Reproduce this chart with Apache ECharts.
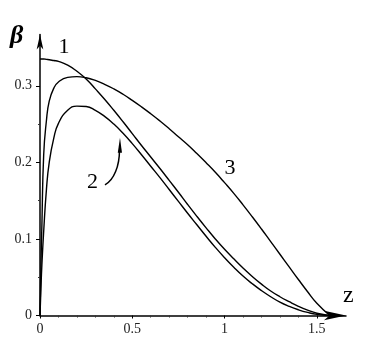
<!DOCTYPE html>
<html><head><meta charset="utf-8">
<script src="https://cdn.jsdelivr.net/npm/echarts@6/dist/echarts.min.js"></script>
<style>html,body{margin:0;padding:0;background:#fff}#c{width:374px;height:356px}</style>
</head><body><div id="c"></div>
<script>
// ---- data ----
const zGrid = [0, 0.005, 0.01, 0.02, 0.035, 0.05, 0.075, 0.1, 0.15, 0.2, 0.25, 0.3, 0.35, 0.4, 0.45, 0.5, 0.55, 0.6, 0.65, 0.7, 0.75, 0.8, 0.85, 0.9, 0.95, 1.0, 1.05, 1.1, 1.15, 1.2, 1.25, 1.3, 1.35, 1.4, 1.45, 1.5, 1.57];
const beta1 = [0.335, 0.335, 0.335, 0.335, 0.3345, 0.334, 0.333, 0.332, 0.327, 0.319, 0.309, 0.296, 0.2825, 0.268, 0.253, 0.2375, 0.222, 0.207, 0.192, 0.1765, 0.161, 0.145, 0.1295, 0.1145, 0.1, 0.0865, 0.074, 0.062, 0.051, 0.041, 0.032, 0.0245, 0.018, 0.012, 0.007, 0.003, 0];
const beta2 = [0, 0.035, 0.065, 0.11, 0.165, 0.2, 0.232, 0.251, 0.268, 0.2735, 0.273, 0.268, 0.26, 0.25, 0.238, 0.2245, 0.21, 0.195, 0.18, 0.1645, 0.149, 0.1335, 0.1185, 0.1035, 0.089, 0.0755, 0.063, 0.0515, 0.0415, 0.0325, 0.0245, 0.0175, 0.012, 0.0075, 0.004, 0.0015, 0];
const beta3 = [0, 0.065, 0.115, 0.21, 0.255, 0.28, 0.297, 0.305, 0.311, 0.312, 0.3105, 0.307, 0.302, 0.296, 0.289, 0.281, 0.2725, 0.2635, 0.254, 0.244, 0.2335, 0.223, 0.2115, 0.1995, 0.187, 0.1735, 0.1595, 0.1445, 0.129, 0.113, 0.0965, 0.08, 0.0635, 0.047, 0.031, 0.016, 0];
const curveNames = ['1', '2', '3'];
const xTicks = [0, 0.5, 1, 1.5];
const xMinorTicks = [0.1, 0.2, 0.3, 0.4, 0.6, 0.7, 0.8, 0.9, 1.1, 1.2, 1.3, 1.4];
const yTicks = [0, 0.1, 0.2, 0.3];
const yMinorTicks = [0.05, 0.15, 0.25];
const xMax = 1.658;
const yMax = 0.367;

const chart = echarts.init(document.getElementById('c'), null, {renderer: 'canvas'});
const serif = '"Liberation Serif", "DejaVu Serif", serif';
const pairs = arr => zGrid.map((z, i) => [z, arr[i]]);
const series = [beta1, beta2, beta3].map((b, i) => ({
  name: curveNames[i], type: 'line', data: pairs(b), showSymbol: false,
  smooth: 0.5, xAxisIndex: 0, yAxisIndex: 0,
  lineStyle: {color: '#000', width: 1.4}, silent: true
}));

chart.setOption({
  animation: false,
  backgroundColor: '#fff',
  grid: {left: 40, right: 28, top: 34.5, bottom: 40.5},
  xAxis: [{
    type: 'value', min: 0, max: xMax, position: 'bottom',
    axisLine: {show: true, onZero: false, lineStyle: {color: '#000', width: 1.5},
      symbol: ['none', 'arrow'], symbolSize: [7, 22]},
    axisTick: {show: true, customValues: xTicks, length: 3, lineStyle: {color: '#000', width: 1}},
    axisLabel: {customValues: xTicks, margin: 7, fontFamily: serif, fontSize: 14, color: '#222'},
    splitLine: {show: false}
  }, {
    type: 'value', min: 0, max: xMax, position: 'bottom', offset: 0,
    axisLine: {show: false},
    axisTick: {show: true, customValues: xMinorTicks, length: 2, lineStyle: {color: '#333', width: 1}},
    axisLabel: {show: false}, splitLine: {show: false}
  }],
  yAxis: [{
    type: 'value', min: 0, max: yMax, position: 'left',
    axisLine: {show: true, onZero: false, lineStyle: {color: '#000', width: 1.5},
      symbol: ['none', 'arrow'], symbolSize: [5, 15]},
    axisTick: {show: true, customValues: yTicks, length: 4, lineStyle: {color: '#000', width: 1}},
    axisLabel: {customValues: yTicks, margin: 8, fontFamily: serif, fontSize: 14, color: '#222'},
    splitLine: {show: false}
  }, {
    type: 'value', min: 0, max: yMax, position: 'left', offset: 0,
    axisLine: {show: false},
    axisTick: {show: true, customValues: yMinorTicks, length: 2, lineStyle: {color: '#333', width: 1}},
    axisLabel: {show: false}, splitLine: {show: false}
  }],
  series: series
});

// annotations anchored to data coordinates
const px = p => chart.convertToPixel({seriesIndex: 0}, p);
const labelAnchors = [[0.13, 0.351], [0.284, 0.174], [1.029, 0.193]];
const g = [];
g.push({type: 'text', left: 10, top: 23, style: {text: 'β', font: 'bold italic 26px ' + serif, fill: '#000'}});
g.push({type: 'text', left: 343, top: 284, style: {text: 'z', font: '24px ' + serif, fill: '#000'}});
labelAnchors.forEach((a, i) => {
  const p = px(a);
  g.push({type: 'text', x: p[0], y: p[1], style: {text: curveNames[i], font: '22px ' + serif, fill: '#000', align: 'center', verticalAlign: 'middle'}});
});
const s = px([0.352, 0.1706]), c1 = px([0.401, 0.177]), c2 = px([0.4307, 0.1954]), e = px([0.4307, 0.2163]);
g.push({type: 'bezierCurve', shape: {x1: s[0], y1: s[1], cpx1: c1[0], cpy1: c1[1], cpx2: c2[0], cpy2: c2[1], x2: e[0], y2: e[1]},
  style: {stroke: '#000', lineWidth: 1.5, fill: null}});
const tip = px([0.4334, 0.232]), bl = px([0.4215, 0.2124]), br = px([0.4442, 0.2124]);
g.push({type: 'polygon', shape: {points: [tip, bl, br]}, style: {fill: '#000'}});
chart.setOption({graphic: g});
</script>
</body></html>
